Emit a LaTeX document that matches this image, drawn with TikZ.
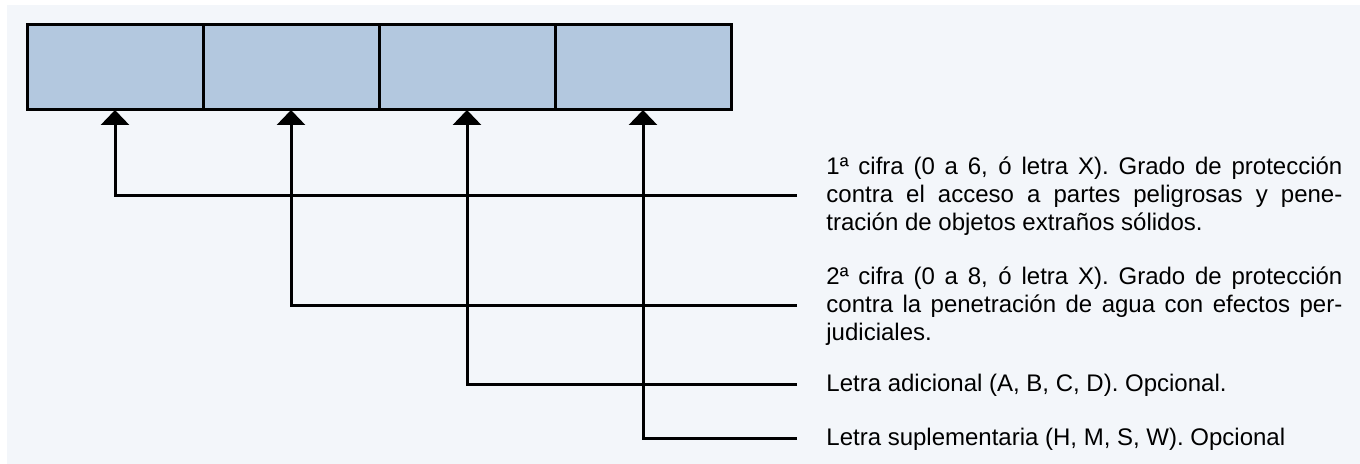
\documentclass[tikz,border=0pt]{standalone}
\usepackage{fontspec}
\setmainfont{Liberation Sans}
\usepackage{tikz}
\usetikzlibrary{calc,positioning,arrows.meta}
\definecolor{cellblue}{RGB}{179,200,223}
\definecolor{panel}{RGB}{243,246,250}

\begin{document}
\begin{tikzpicture}[x=0.5pt,y=-0.5pt]
        \tikzset{>={Triangle[width=14pt,length=7.5pt]}}
        \tikzstyle{arr} = [line width=1.5pt, ->],
        \tikzstyle{cell} = [shape=rectangle, draw, line width=1.5pt, fill=cellblue, minimum width=88pt, minimum height=42.5pt, inner sep=0pt, outer sep=0pt],
        \tikzstyle{note} = [anchor=west, inner sep=0pt, text width=258pt, align=justify, font=\fontsize{12}{14}\selectfont],

        \useasboundingbox (0,0) rectangle (1360,464);
        \fill [panel] (7,5) rectangle (1360,464);

        % code cells
        \node [cell, name=c1] at (115,67.5) {};
        \node [cell, name=c2, right=0pt of c1] {};
        \node [cell, name=c3, right=0pt of c2] {};
        \node [cell, name=c4, right=0pt of c3] {};

        % notes
        \node [note, name=t1] at (826,196) {1ª cifra (0 a 6, ó letra X). Grado de protección\linebreak contra el acceso a partes peligrosas y pene-\linebreak tración de objetos extraños sólidos.};
        \node [note, name=t2] at (826,306) {2ª cifra (0 a 8, ó letra X). Grado de protección\linebreak contra la penetración de agua con efectos per-\linebreak judiciales.};
        \node [note, name=t3] at (826,385) {Letra adicional (A, B, C, D). Opcional.};
        \node [note, name=t4] at (826,439) {Letra suplementaria (H, M, S, W). Opcional};

        \coordinate (e1) at ($(t1.west) + (-29,0)$);
        \coordinate (e2) at ($(t2.west) + (-29,0)$);
        \coordinate (e3) at ($(t3.west) + (-29,0)$);
        \coordinate (e4) at ($(t4.west) + (-29,0)$);

        % arrows
        \draw [arr] (e1) -| (c1.south);
        \draw [arr] (e2) -| (c2.south);
        \draw [arr] (e3) -| (c3.south);
        \draw [arr] (e4) -| (c4.south);
\end{tikzpicture}
\end{document}
